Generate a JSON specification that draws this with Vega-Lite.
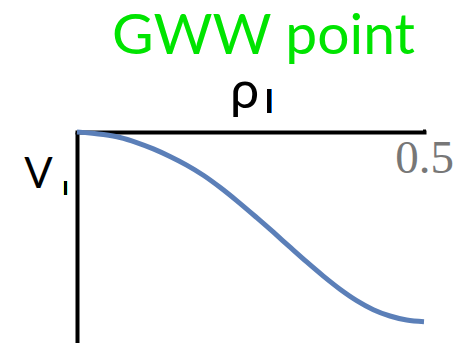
{
  "$schema": "https://vega.github.io/schema/vega-lite/v6.json",
  "width": 347,
  "height": 211,
  "autosize": {"type": "none"},
  "padding": {"left": 77, "top": 132, "right": 39, "bottom": 0},
  "background": "white",
  "config": {"view": {"stroke": null}},
  "title": {
    "text": "GWW point",
    "font": "Lato",
    "fontSize": 57,
    "fontWeight": "normal",
    "color": "#00e400",
    "anchor": "middle",
    "dx": 13,
    "dy": 1,
    "offset": 0
  },
  "data": {
    "values": [
      {"rho": 0.0, "v": 0.0},
      {"rho": 0.038, "v": -0.012},
      {"rho": 0.062, "v": -0.026},
      {"rho": 0.086, "v": -0.05},
      {"rho": 0.11, "v": -0.08},
      {"rho": 0.134, "v": -0.116},
      {"rho": 0.158, "v": -0.157},
      {"rho": 0.182, "v": -0.205},
      {"rho": 0.206, "v": -0.262},
      {"rho": 0.23, "v": -0.325},
      {"rho": 0.259, "v": -0.406},
      {"rho": 0.283, "v": -0.475},
      {"rho": 0.307, "v": -0.546},
      {"rho": 0.331, "v": -0.616},
      {"rho": 0.355, "v": -0.683},
      {"rho": 0.379, "v": -0.745},
      {"rho": 0.403, "v": -0.799},
      {"rho": 0.427, "v": -0.842},
      {"rho": 0.451, "v": -0.872},
      {"rho": 0.475, "v": -0.891},
      {"rho": 0.5, "v": -0.899}
    ]
  },
  "layer": [
    {
      "mark": {"type": "line", "color": "#5b7fb8", "strokeWidth": 5, "interpolate": "monotone"},
      "encoding": {
        "x": {
          "field": "rho",
          "type": "quantitative",
          "scale": {"domain": [0, 0.5], "nice": false, "zero": false},
          "axis": {
            "orient": "top",
            "title": "ρ",
            "titleFont": "Lato",
            "titleFontSize": 52,
            "titleFontWeight": "normal",
            "titleColor": "black",
            "titleBaseline": "alphabetic",
            "titleY": -25,
            "titleX": 167,
            "titleAnchor": null,
            "titleAlign": "center",
            "values": [0.5],
            "format": ".1f",
            "domainColor": "black",
            "domainWidth": 4,
            "domainCap": "square",
            "ticks": true,
            "tickSize": 3,
            "tickWidth": 3,
            "tickColor": "black",
            "labelFont": "Liberation Serif",
            "labelFontSize": 47,
            "labelColor": "#777777",
            "labelBaseline": "alphabetic",
            "labelAlign": "center",
            "labelPadding": -43,
            "labelFlush": false,
            "labelOverlap": false,
            "labelBound": false,
            "grid": false
          }
        },
        "y": {
          "field": "v",
          "type": "quantitative",
          "scale": {"domain": [-1, 0], "nice": false, "zero": false},
          "axis": {
            "orient": "left",
            "title": "V",
            "titleFont": "Lato",
            "titleFontSize": 42,
            "titleFontWeight": "normal",
            "titleColor": "black",
            "titleAngle": 0,
            "titleBaseline": "alphabetic",
            "titleAlign": "center",
            "titleX": -39,
            "titleY": 55,
            "labels": false,
            "ticks": false,
            "grid": false,
            "domainColor": "black",
            "domainWidth": 4
          }
        }
      }
    },
    {
      "mark": {"type": "text", "text": "I", "font": "Lato", "fontSize": 32, "align": "center", "baseline": "alphabetic", "color": "black"},
      "encoding": {
        "x": {"datum": 0.277, "type": "quantitative"},
        "y": {"datum": 0.092, "type": "quantitative"}
      }
    },
    {
      "mark": {"type": "text", "text": "I", "font": "Lato", "fontSize": 20, "align": "center", "baseline": "alphabetic", "color": "black"},
      "encoding": {
        "x": {"datum": -0.0166, "type": "quantitative"},
        "y": {"datum": -0.299, "type": "quantitative"}
      }
    }
  ]
}
